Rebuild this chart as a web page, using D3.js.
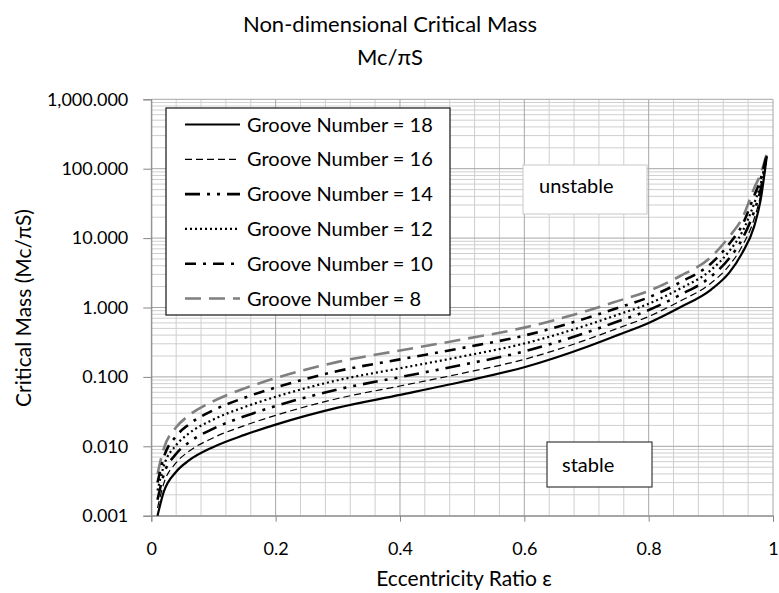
<!DOCTYPE html>
<html>
<head>
	<title>Non-dimensional Critical Mass</title>
	<style type="text/css">
		body { margin: 0; background: #fff; }
		.chart { font-family: Lato, 'Open Sans', sans-serif; }
	</style>
</head>
<body>

	<svg width="779" height="593" class="chart"></svg>

	<script type="text/javascript" src="https://cdnjs.cloudflare.com/ajax/libs/d3/7.8.5/d3.min.js"></script>

	<script type="text/javascript">

		// eccentricity ratio (x) and critical mass Mc/piS (y)
		var eccentricity = [0.01, 0.02, 0.04, 0.06, 0.1, 0.15, 0.2, 0.3, 0.4, 0.5, 0.6, 0.7, 0.75, 0.8, 0.85, 0.9, 0.93, 0.95, 0.97, 0.98, 0.99]

		var groove18 = [0.001, 0.0022, 0.0043, 0.0062, 0.0098, 0.0146, 0.0205, 0.036, 0.055, 0.085, 0.138, 0.27, 0.40, 0.6, 1.0, 1.8, 3.2, 6, 15, 35, 150]
		var groove16 = [0.0013, 0.0029, 0.0058, 0.0084, 0.0133, 0.0199, 0.0279, 0.0488, 0.0739, 0.1125, 0.179, 0.343, 0.501, 0.742, 1.23, 2.24, 4.07, 7.55, 19.3, 41.7, 152]
		var groove14 = [0.0017, 0.0039, 0.0078, 0.0113, 0.018, 0.0271, 0.038, 0.0661, 0.0992, 0.149, 0.233, 0.435, 0.628, 0.917, 1.51, 2.78, 5.16, 9.51, 24.9, 49.7, 155]
		var groove12 = [0.0023, 0.0052, 0.0104, 0.0152, 0.0244, 0.0368, 0.0517, 0.0896, 0.133, 0.197, 0.303, 0.554, 0.787, 1.133, 1.86, 3.45, 6.56, 12.0, 32.1, 59.2, 158]
		var groove10 = [0.0030, 0.0069, 0.014, 0.0205, 0.0331, 0.0502, 0.0704, 0.1214, 0.179, 0.261, 0.394, 0.703, 0.986, 1.40, 2.29, 4.28, 8.34, 15.1, 41.3, 70.5, 162]
		var groove8 = [0.0040, 0.0092, 0.0188, 0.0277, 0.0448, 0.0683, 0.0959, 0.1646, 0.240, 0.346, 0.513, 0.893, 1.236, 1.73, 2.82, 5.31, 10.6, 19.0, 53.2, 84.0, 165]

		var series_names = ['Groove Number = 18', 'Groove Number = 16', 'Groove Number = 14', 'Groove Number = 12', 'Groove Number = 10', 'Groove Number = 8']
		var series_values = [groove18, groove16, groove14, groove12, groove10, groove8]

		var xtick_values = [0, 0.2, 0.4, 0.6, 0.8, 1]
		var ytick_values = [0.001, 0.01, 0.1, 1, 10, 100, 1000]

		// line styles, same order as the series
		var styles = [
			{'stroke': '#000', 'width': 2.2, 'dash': null},
			{'stroke': '#000', 'width': 1.2, 'dash': '7,4'},
			{'stroke': '#000', 'width': 2.6, 'dash': '15,7,3,7,3,7'},
			{'stroke': '#000', 'width': 2.2, 'dash': '2,3'},
			{'stroke': '#000', 'width': 2.6, 'dash': '11,7,3,7'},
			{'stroke': '#7f7f7f', 'width': 2.6, 'dash': '16,8'}
		]

		var plot = {'left': 151.3, 'top': 99.3, 'width': 621.7, 'height': 416.4}

		var svg = d3.select('.chart')

		var x = d3.scaleLinear()
					.domain([0, 1])
					.range([plot.left, plot.left + plot.width])

		var y = d3.scaleLog()
					.domain([0.001, 1000])
					.range([plot.top + plot.height, plot.top])

		// grid
		var xgrid = d3.range(0, 26).map(function(i) {return {'v': i * 0.04, 'major': i % 5 == 0}})
		var ygrid = []
		for (var k = -3; k < 3; k++) {
			for (var m = 1; m < 10; m++) {
				ygrid.push({'v': m * Math.pow(10, k), 'major': m == 1})
			}
		}
		ygrid.push({'v': 1000, 'major': true})

		var grid = svg.append('g').attr('class', 'grid')

		grid.selectAll('.hminor')
			.data(ygrid.filter(function(d) {return !d.major}))
			.enter().append('line')
			.attr('x1', plot.left).attr('x2', plot.left + plot.width)
			.attr('y1', function(d) {return y(d.v)}).attr('y2', function(d) {return y(d.v)})
			.attr('stroke', '#cfcfcf').attr('stroke-width', 1)

		grid.selectAll('.vminor')
			.data(xgrid.filter(function(d) {return !d.major}))
			.enter().append('line')
			.attr('x1', function(d) {return x(d.v)}).attr('x2', function(d) {return x(d.v)})
			.attr('y1', plot.top).attr('y2', plot.top + plot.height)
			.attr('stroke', '#cfcfcf').attr('stroke-width', 1)

		grid.selectAll('.hmajor')
			.data(ygrid.filter(function(d) {return d.major}))
			.enter().append('line')
			.attr('x1', plot.left).attr('x2', plot.left + plot.width)
			.attr('y1', function(d) {return y(d.v)}).attr('y2', function(d) {return y(d.v)})
			.attr('stroke', '#a6a6a6').attr('stroke-width', 1)

		grid.selectAll('.vmajor')
			.data(xgrid.filter(function(d) {return d.major}))
			.enter().append('line')
			.attr('x1', function(d) {return x(d.v)}).attr('x2', function(d) {return x(d.v)})
			.attr('y1', plot.top).attr('y2', plot.top + plot.height)
			.attr('stroke', '#a6a6a6').attr('stroke-width', 1)

		// axes
		var yaxis = svg.append('g')
			.attr('transform', 'translate(' + plot.left + ',0)')
			.call(d3.axisLeft(y).tickValues(ytick_values).tickFormat(d3.format(',.3f')).tickSize(8).tickPadding(15))
		var xaxis = svg.append('g')
			.attr('transform', 'translate(0,' + (plot.top + plot.height) + ')')
			.call(d3.axisBottom(x).tickValues(xtick_values).tickFormat(d3.format('~g')).tickSize(6).tickPadding(21))

		svg.selectAll('.domain, .tick line').attr('stroke', '#868686')
		svg.selectAll('.tick text')
			.attr('font-family', 'Lato, sans-serif')
			.attr('font-size', 18)
			.attr('fill', '#000')

		// curves
		var line = d3.line()
					.x(function(d) {return x(d[0])})
					.y(function(d) {return y(d[1])})
					.curve(d3.curveMonotoneX)

		var curves = svg.append('g').attr('class', 'curves')
		for (var s = series_values.length - 1; s >= 0; s--) {
			var pts = eccentricity.map(function(e, i) {return [e, series_values[s][i]]})
			curves.append('path')
				.attr('d', line(pts))
				.attr('fill', 'none')
				.attr('stroke', styles[s].stroke)
				.attr('stroke-width', styles[s].width)
				.attr('stroke-dasharray', styles[s].dash)
		}

		// legend
		var legend = svg.append('g').attr('class', 'legend')
		legend.append('rect')
			.attr('x', 166).attr('y', 108).attr('width', 284).attr('height', 207)
			.attr('fill', '#fff').attr('stroke', '#262626').attr('stroke-width', 1.3)

		var rows = legend.selectAll('.row')
			.data(series_names)
			.enter().append('g')
			.attr('transform', function(d, i) {return 'translate(0,' + (124.5 + i * 34.8) + ')'})

		rows.append('line')
			.attr('x1', 185).attr('x2', 240).attr('y1', 0).attr('y2', 0)
			.attr('stroke', function(d, i) {return styles[i].stroke})
			.attr('stroke-width', function(d, i) {return styles[i].width})
			.attr('stroke-dasharray', function(d, i) {return styles[i].dash})

		rows.append('text')
			.attr('x', 247).attr('y', 7)
			.attr('font-size', 20)
			.attr('fill', '#000')
			.text(function(d) {return d})

		// region labels
		svg.append('rect')
			.attr('x', 523).attr('y', 165).attr('width', 124).attr('height', 49)
			.attr('fill', '#fff').attr('stroke', '#c8c8c8').attr('stroke-width', 1)
		svg.append('text')
			.attr('x', 539).attr('y', 193)
			.attr('font-size', 20).attr('fill', '#000')
			.text('unstable')

		svg.append('rect')
			.attr('x', 547).attr('y', 442).attr('width', 105).attr('height', 45)
			.attr('fill', '#fff').attr('stroke', '#3a3a3a').attr('stroke-width', 1.2)
		svg.append('text')
			.attr('x', 562).attr('y', 472)
			.attr('font-size', 20).attr('fill', '#000')
			.text('stable')

		// titles
		svg.append('text')
			.attr('x', 390).attr('y', 32)
			.attr('text-anchor', 'middle')
			.attr('font-size', 22).attr('fill', '#000')
			.text('Non-dimensional Critical Mass')
		svg.append('text')
			.attr('x', 390).attr('y', 65)
			.attr('text-anchor', 'middle')
			.attr('font-size', 22).attr('fill', '#000')
			.text('Mc/\u03C0S')

		svg.append('text')
			.attr('transform', 'translate(31,308) rotate(-90)')
			.attr('text-anchor', 'middle')
			.attr('font-size', 21).attr('fill', '#000')
			.text('Critical Mass (Mc/\u03C0S)')

		svg.append('text')
			.attr('x', 464).attr('y', 586)
			.attr('text-anchor', 'middle')
			.attr('font-size', 21).attr('fill', '#000')
			.text('Eccentricity Ratio \u03B5')

	</script>

</body>
</html>
